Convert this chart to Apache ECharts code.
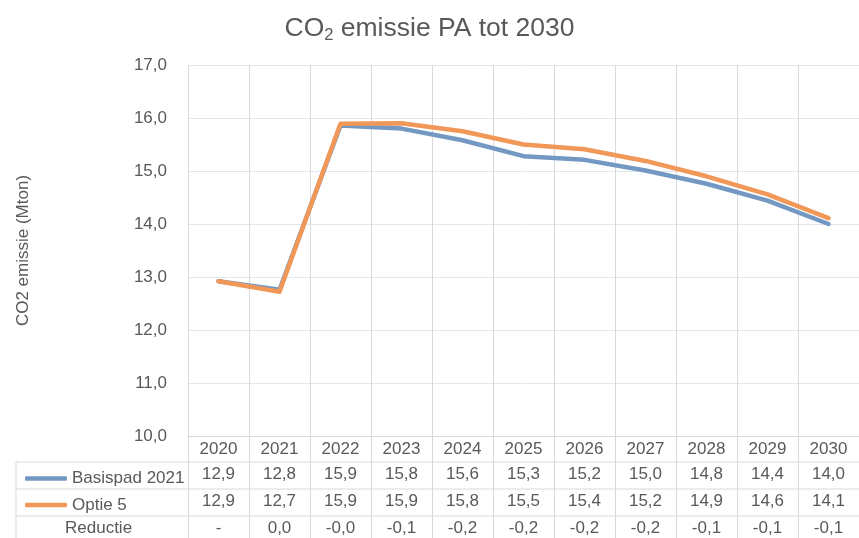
<!DOCTYPE html>
<html>
<head>
<meta charset="utf-8">
<script src="https://cdn.jsdelivr.net/npm/echarts@6/dist/echarts.min.js"></script>
<style>
html, body { margin: 0; padding: 0; background: #fff; }
#main { width: 859px; height: 538px; }
</style>
</head>
<body>
<div id="main"></div>
<script>
var years = ['2020', '2021', '2022', '2023', '2024', '2025', '2026', '2027', '2028', '2029', '2030'];
var basispad = [12.92, 12.76, 15.86, 15.80, 15.58, 15.28, 15.21, 15.01, 14.76, 14.44, 14.00];
var optie5 = [12.92, 12.72, 15.89, 15.90, 15.75, 15.50, 15.41, 15.19, 14.90, 14.56, 14.11];

var font = 'Liberation Sans, Arial, sans-serif';
var txt = '#595959';
var gridGrey = '#d9d9d9';

function fmt(v) {
    return v.toFixed(1).replace('.', ',');
}
var reductie = basispad.map(function(b, i) {
    return Math.round((b - optie5[i]) * 100) / 100;
});
var redLabels = reductie.map(function(r) {
    return Math.abs(r) < 1e-9 ? '-' : fmt(r);
});

function tableAxis(data, margin) {
    return {
        type: 'category',
        gridIndex: 0,
        position: 'bottom',
        data: data,
        axisLine: { show: false },
        axisTick: { show: false },
        splitLine: { show: false },
        axisLabel: { margin: margin, color: txt, fontSize: 17, fontFamily: font, lineHeight: 17, interval: 0 }
    };
}

var myChart = echarts.init(document.getElementById('main'));
var option = {
    animation: false,
    title: {
        text: '{a|CO}{s|2}{a| emissie PA tot 2030}',
        left: 'center',
        top: 9,
        textStyle: {
            fontWeight: 'normal',
            rich: {
                a: { fontSize: 26.5, color: txt, fontFamily: font, fontWeight: 'normal' },
                s: { fontSize: 16.5, color: txt, fontFamily: font, fontWeight: 'normal', padding: [13, 0, 0, 0] }
            }
        }
    },
    legend: {
        orient: 'vertical',
        left: 20,
        top: 465,
        icon: 'roundRect',
        itemWidth: 42,
        itemHeight: 4.5,
        itemGap: 9.5,
        textStyle: { color: txt, fontSize: 17, fontFamily: font, lineHeight: 17 },
        data: ['Basispad 2021', 'Optie 5']
    },
    grid: { left: 188, right: -11, top: 65, bottom: 102 },
    xAxis: [{
        type: 'category',
        data: years,
        boundaryGap: true,
        axisLine: { show: true, lineStyle: { color: gridGrey } },
        axisTick: { show: true, length: 110, lineStyle: { color: gridGrey } },
        splitLine: { show: true, lineStyle: { color: gridGrey } },
        axisLabel: { margin: 4.5, color: txt, fontSize: 17, fontFamily: font, lineHeight: 17, interval: 0 }
    },
    tableAxis(basispad.map(fmt), 30),
    tableAxis(optie5.map(fmt), 56.5),
    tableAxis(redLabels, 84)],
    yAxis: {
        type: 'value',
        min: 10,
        max: 17,
        interval: 1,
        name: 'CO2 emissie (Mton)',
        nameLocation: 'middle',
        nameGap: 156,
        nameTextStyle: { color: txt, fontSize: 17, fontFamily: font },
        axisLine: { show: false },
        axisTick: { show: false },
        splitLine: { lineStyle: { color: '#e1e7ef' } },
        axisLabel: { margin: 21, color: txt, fontSize: 17, fontFamily: font, formatter: fmt }
    },
    graphic: [
        { type: 'line', shape: { x1: 16, y1: 462, x2: 859, y2: 462 }, style: { stroke: gridGrey, lineWidth: 1 } },
        { type: 'line', shape: { x1: 16, y1: 489, x2: 859, y2: 489 }, style: { stroke: gridGrey, lineWidth: 1 } },
        { type: 'line', shape: { x1: 16, y1: 516, x2: 859, y2: 516 }, style: { stroke: gridGrey, lineWidth: 1 } },
        { type: 'line', shape: { x1: 16, y1: 462, x2: 16, y2: 538 }, style: { stroke: gridGrey, lineWidth: 1 } },
        { type: 'text', left: 65, top: 520, style: { text: 'Reductie', fill: txt, fontSize: 17, fontFamily: font } }
    ],
    series: [{
        name: 'Basispad 2021',
        type: 'line',
        data: basispad,
        symbol: 'none',
        color: '#7399c3',
        lineStyle: { width: 4.5, cap: 'round', join: 'round' },
        z: 2
    },
    {
        name: 'Optie 5',
        type: 'line',
        data: optie5,
        symbol: 'none',
        color: '#f19758',
        lineStyle: { width: 4.5, cap: 'round', join: 'round' },
        z: 3
    }]
};
myChart.setOption(option);
</script>
</body>
</html>
